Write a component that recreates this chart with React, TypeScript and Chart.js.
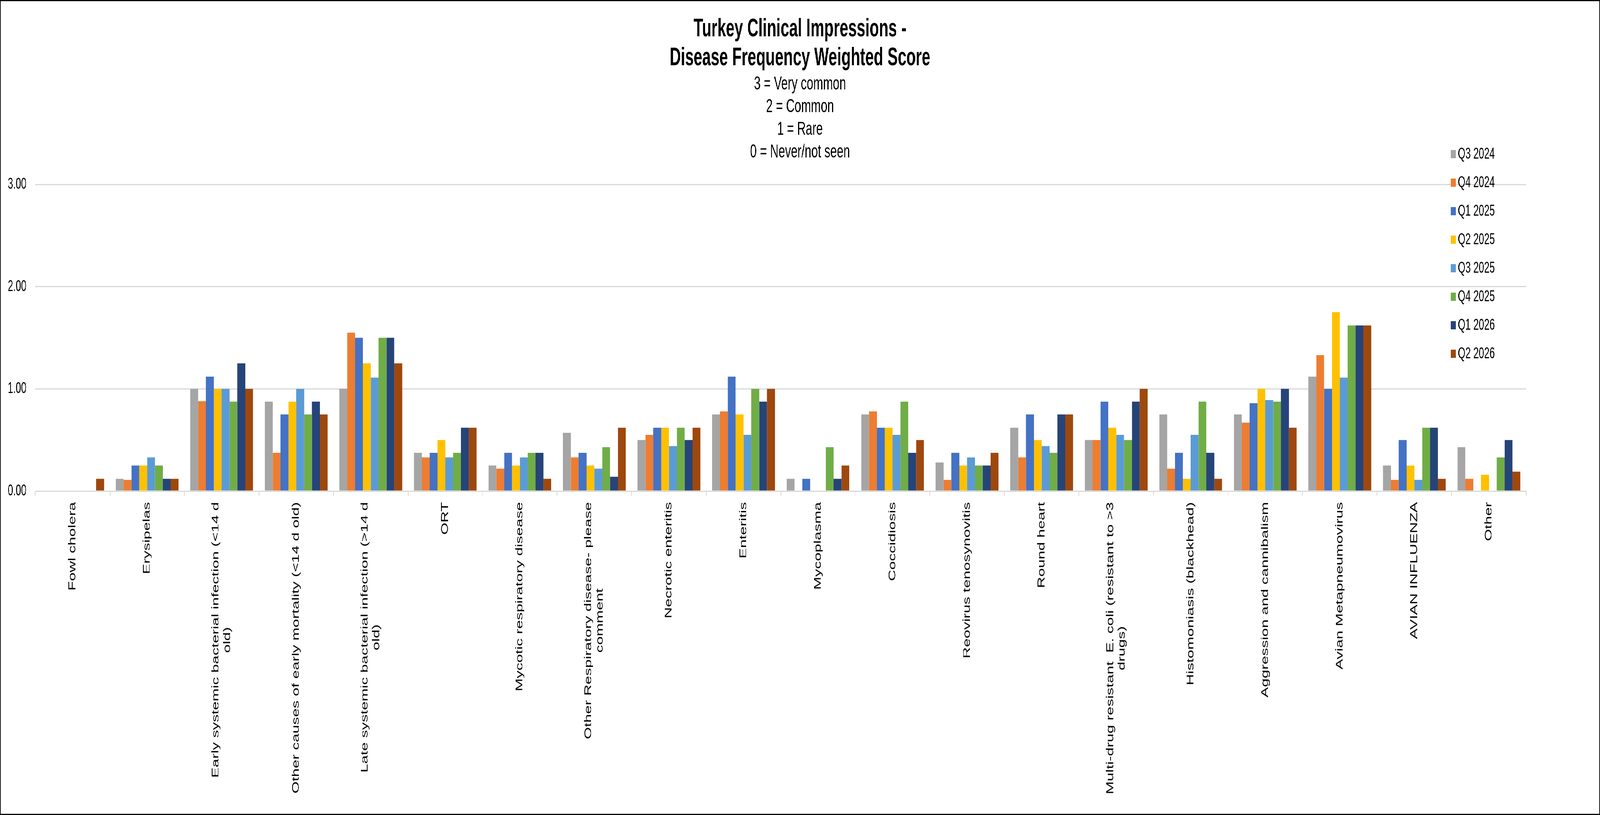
import { useEffect, useRef } from 'react';
import { Chart, ChartConfiguration, Plugin, registerables } from 'chart.js';

Chart.register(...registerables);

const FONT = '"Liberation Sans", Arial, sans-serif';

const W = 6655;
const H = 2086;

const categories = [
  'Fowl cholera',
  'Erysipelas',
  'Early systemic bacterial infection (<14 d old)',
  'Other causes of early mortality (<14 d old)',
  'Late systemic bacterial infection (>14 d old)',
  'ORT',
  'Mycotic respiratory disease',
  'Other Respiratory disease- please comment',
  'Necrotic enteritis',
  'Enteritis',
  'Mycoplasma',
  'Coccidiosis',
  'Reovirus tenosynovitis',
  'Round heart',
  'Multi-drug resistant  E. coli (resistant to >3 drugs)',
  'Histomoniasis (blackhead)',
  'Aggression and cannibalism',
  'Avian Metapneumovirus',
  'AVIAN INFLUENZA',
  'Other',
];

const quarters = ['Q3 2024', 'Q4 2024', 'Q1 2025', 'Q2 2025', 'Q3 2025', 'Q4 2025', 'Q1 2026', 'Q2 2026'];

const q3_2024 = [0, 0.12, 1.0, 0.875, 1.0, 0.375, 0.25, 0.57, 0.5, 0.75, 0.12, 0.75, 0.28, 0.62, 0.5, 0.75, 0.75, 1.12, 0.25, 0.43];
const q4_2024 = [0, 0.11, 0.88, 0.375, 1.55, 0.33, 0.22, 0.33, 0.55, 0.78, 0, 0.78, 0.11, 0.33, 0.5, 0.22, 0.67, 1.33, 0.11, 0.12];
const q1_2025 = [0, 0.25, 1.12, 0.75, 1.5, 0.375, 0.375, 0.375, 0.62, 1.12, 0.12, 0.62, 0.375, 0.75, 0.875, 0.375, 0.86, 1.0, 0.5, 0];
const q2_2025 = [0, 0.25, 1.0, 0.875, 1.25, 0.5, 0.25, 0.25, 0.62, 0.75, 0, 0.62, 0.25, 0.5, 0.62, 0.12, 1.0, 1.75, 0.25, 0.16];
const q3_2025 = [0, 0.33, 1.0, 1.0, 1.11, 0.33, 0.33, 0.22, 0.44, 0.55, 0, 0.55, 0.33, 0.44, 0.55, 0.55, 0.89, 1.11, 0.11, 0];
const q4_2025 = [0, 0.25, 0.875, 0.75, 1.5, 0.375, 0.375, 0.43, 0.62, 1.0, 0.43, 0.875, 0.25, 0.375, 0.5, 0.875, 0.875, 1.62, 0.62, 0.33];
const q1_2026 = [0, 0.12, 1.25, 0.875, 1.5, 0.62, 0.375, 0.14, 0.5, 0.875, 0.12, 0.375, 0.25, 0.75, 0.875, 0.375, 1.0, 1.62, 0.62, 0.5];
const q2_2026 = [0.12, 0.12, 1.0, 0.75, 1.25, 0.62, 0.12, 0.62, 0.62, 1.0, 0.25, 0.5, 0.375, 0.75, 1.0, 0.12, 0.62, 1.62, 0.12, 0.19];

const seriesValues = [q3_2024, q4_2024, q1_2025, q2_2025, q3_2025, q4_2025, q1_2026, q2_2026];
const seriesColors = ['#A5A5A5', '#ED7D31', '#4472C4', '#FFC000', '#5B9BD5', '#70AD47', '#264478', '#9E480E'];

const yTicks = [0, 1, 2, 3];

const titleLines = ['Turkey Clinical Impressions -', 'Disease Frequency Weighted Score'];
const subtitleLines = ['3 = Very common', '2 = Common', '1 = Rare', '0 = Never/not seen'];

const GRID = '#D9D9D9';

// greedy word wrap, like Excel does for category labels
function wrap(ctx: CanvasRenderingContext2D, text: string, maxWidth: number) {
  const words = text.split(' ');
  const lines: string[] = [];
  let line = words[0];
  for (let i = 1; i < words.length; i++) {
    const test = line + ' ' + words[i];
    if (ctx.measureText(test).width <= maxWidth) {
      line = test;
    } else {
      lines.push(line);
      line = words[i];
    }
  }
  lines.push(line);
  return lines;
}

// rotated category labels: anchored just under the axis, lines centred on each other
const xLabelPlugin: Plugin<'bar'> = {
  id: 'xLabels',
  afterDraw(chart) {
    const { ctx, chartArea } = chart;
    const x = chart.scales.x;
    const lh = 48;
    const top = chartArea.bottom + 28;
    ctx.save();
    ctx.font = `40px ${FONT}`;
    ctx.fillStyle = '#000';
    ctx.textBaseline = 'middle';
    ctx.textAlign = 'center';
    categories.forEach((label, i) => {
      const lines = wrap(ctx, label, 758);
      const maxW = Math.max(...lines.map((l) => ctx.measureText(l).width));
      ctx.save();
      ctx.translate(x.getPixelForValue(i), top);
      ctx.rotate(-Math.PI / 2);
      lines.forEach((line, j) => {
        ctx.fillText(line, -maxW / 2, (j - (lines.length - 1) / 2) * lh);
      });
      ctx.restore();
    });
    ctx.restore();
  },
};

// legend sits over the right end of the plot area
const legendPlugin: Plugin<'bar'> = {
  id: 'cornerLegend',
  afterDraw(chart) {
    const { ctx, chartArea } = chart;
    const left = chartArea.right - 314;
    const top = chartArea.top - 78;
    ctx.save();
    ctx.font = `40px ${FONT}`;
    ctx.textBaseline = 'middle';
    ctx.textAlign = 'left';
    chart.data.datasets.forEach((ds, i) => {
      const y = top + i * 73;
      ctx.fillStyle = ds.backgroundColor as string;
      ctx.fillRect(left, y - 10, 21, 21);
      ctx.fillStyle = '#000';
      ctx.fillText(ds.label as string, left + 30, y + 1);
    });
    ctx.restore();
  },
};

export default function App() {
  const canvasRef = useRef<HTMLCanvasElement>(null);
  const chartRef = useRef<Chart | null>(null);

  document.body.style.margin = '0';
  // fit the whole chart into the window if it is smaller than the picture
  const sx = Math.min(1, window.innerWidth / W);
  const sy = Math.min(1, window.innerHeight / H);

  useEffect(() => {
    if (!canvasRef.current) return;
    if (chartRef.current) chartRef.current.destroy();

    const config: ChartConfiguration<'bar'> = {
      type: 'bar',
      data: {
        labels: categories,
        datasets: quarters.map((q, i) => ({
          label: q,
          data: seriesValues[i],
          backgroundColor: seriesColors[i],
          borderWidth: 0,
          categoryPercentage: 0.842,
          barPercentage: 1.0,
        })),
      },
      options: {
        responsive: false,
        animation: false,
        devicePixelRatio: 1,
        layout: { padding: 0 },
        font: { family: FONT },
        plugins: {
          legend: { display: false },
          tooltip: { enabled: false },
          title: {
            display: true,
            text: titleLines,
            color: '#000',
            font: { family: FONT, size: 64, weight: 'bold', lineHeight: 74 / 64 },
            padding: { top: 35, bottom: 0 },
          },
          subtitle: {
            display: true,
            text: subtitleLines,
            color: '#000',
            font: { family: FONT, size: 49, lineHeight: 58 / 49 },
            padding: { top: 0, bottom: 54 },
          },
        },
        scales: {
          x: {
            grid: {
              offset: true,
              drawOnChartArea: false,
              drawTicks: true,
              tickLength: 12,
              color: GRID,
              lineWidth: 3,
            },
            border: { display: true, color: GRID, width: 3 },
            ticks: { display: false },
            afterFit: (s) => {
              s.height = 826;
            },
          },
          y: {
            min: 0,
            max: 3,
            afterBuildTicks: (s) => {
              s.ticks = yTicks.map((v) => ({ value: v }));
            },
            grid: { color: GRID, lineWidth: 3, drawTicks: false },
            border: { display: false },
            ticks: {
              color: '#000',
              padding: 37,
              font: { family: FONT, size: 40 },
              callback: (v) => Number(v).toFixed(2),
            },
            afterFit: (s) => {
              s.width = 144;
            },
          },
          yRight: {
            type: 'linear',
            position: 'right',
            grid: { display: false, drawTicks: false },
            border: { display: false },
            ticks: { display: false },
            afterFit: (s) => {
              s.width = 304;
            },
          },
        },
      },
      plugins: [xLabelPlugin, legendPlugin],
    };

    chartRef.current = new Chart(canvasRef.current, config);

    return () => {
      if (chartRef.current) {
        chartRef.current.destroy();
        chartRef.current = null;
      }
    };
  }, []);

  return (
    <div style={{ width: W * sx, height: H * sy, overflow: 'hidden', position: 'relative' }}>
      <div
        style={{
          position: 'absolute',
          left: 0,
          top: 0,
          width: W,
          height: H,
          border: '3px solid #000',
          boxSizing: 'border-box',
          background: '#fff',
          transform: `scale(${sx}, ${sy})`,
          transformOrigin: '0 0',
        }}
      >
        <canvas ref={canvasRef} width={W - 6} height={H - 6} />
      </div>
    </div>
  );
}
